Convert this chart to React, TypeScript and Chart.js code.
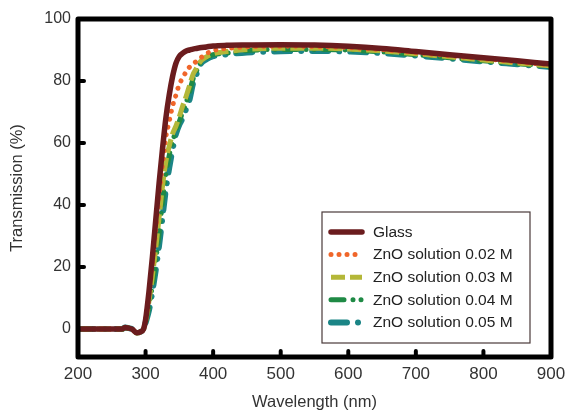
import React, { useEffect, useRef } from "react";
import { Chart, registerables } from "chart.js";

Chart.register(...registerables);

const wavelengths = [
  200, 260, 265, 270, 275, 280, 287, 293, 297, 300, 305, 310, 315, 320, 325, 330, 335, 340, 345, 350,
  355, 360, 365, 370, 375, 380, 390, 400, 420, 450, 500, 550, 600, 650, 700, 750, 800, 850, 900,
];

const glass = [
  0, 0, 0, 0.5, 0.3, 0, -1.2, -0.8, 0, 3, 12, 23, 35, 47, 58, 68, 75.5, 81.5, 85.8, 88,
  89, 89.7, 90, 90.3, 90.5, 90.7, 91, 91.3, 91.5, 91.6, 91.7, 91.6, 91.2, 90.5, 89.5, 88.5, 87.5, 86.5, 85.5,
];
const zno002 = [
  0, 0, 0, 0.5, 0.3, 0, -1.2, -0.8, 0, 3, 11, 21, 32, 43, 53, 62, 67, 72, 75.5, 79,
  81, 83, 84.5, 85.5, 86.3, 87.2, 88.8, 89.8, 90.5, 91, 91.2, 91.1, 90.8, 90.1, 89.2, 88.2, 87.2, 86.2, 85.2,
];
const zno003 = [
  0, 0, 0, 0.5, 0.3, 0, -1.3, -0.8, 0, 2.5, 9, 17, 26, 36, 46, 54, 59, 63, 65.5, 68.5,
  72, 75, 78.5, 82, 84, 86, 87.8, 88.8, 89.5, 90.2, 90.6, 90.6, 90.3, 89.7, 88.8, 87.8, 86.8, 85.8, 84.9,
];
const zno004 = [
  0, 0, 0, 0.5, 0.3, 0, -1.3, -0.8, 0, 2, 7.5, 14, 22, 31, 41, 50, 56, 60.5, 64, 67,
  70, 73, 76.5, 80.5, 83, 85.5, 87.5, 88.5, 89, 89.8, 90.2, 90.2, 90, 89.4, 88.5, 87.5, 86.5, 85.6, 84.7,
];
const zno005 = [
  0, 0, 0, 0.5, 0.3, 0, -1.3, -0.8, -0.3, 2, 6, 12, 19, 27, 36, 45, 52, 58, 63, 66,
  68, 71, 74, 79, 82, 85, 87, 88, 88.6, 89.2, 89.6, 89.7, 89.5, 89, 88.2, 87.3, 86.3, 85.4, 84.5,
];

const seriesLabels = [
  "Glass",
  "ZnO solution 0.02 M",
  "ZnO solution 0.03 M",
  "ZnO solution 0.04 M",
  "ZnO solution 0.05 M",
];

const xTicks = [200, 300, 400, 500, 600, 700, 800, 900];
const yTicks = [0, 20, 40, 60, 80, 100];

const FONT = "'Liberation Sans', Arial, Helvetica, sans-serif";

const framePlugin = {
  id: "frameTicks",
  beforeDatasetsDraw(chart: any) {
    const { ctx, chartArea, scales } = chart;
    ctx.save();
    ctx.strokeStyle = "#000";
    ctx.lineWidth = 4;
    ctx.lineCap = "round";
    const len = 6;
    for (const v of yTicks) {
      if (v === scales.y.max) continue;
      const y = scales.y.getPixelForValue(v);
      ctx.beginPath();
      ctx.moveTo(chartArea.left, y);
      ctx.lineTo(chartArea.left + len, y);
      ctx.stroke();
    }
    for (const v of xTicks) {
      if (v === scales.x.min || v === scales.x.max) continue;
      const x = scales.x.getPixelForValue(v);
      ctx.beginPath();
      ctx.moveTo(x, chartArea.bottom);
      ctx.lineTo(x, chartArea.bottom - len);
      ctx.stroke();
    }
    ctx.restore();
  },
  afterDatasetsDraw(chart: any) {
    const { ctx, chartArea } = chart;
    ctx.save();
    ctx.strokeStyle = "#000";
    ctx.lineWidth = 5;
    ctx.lineJoin = "round";
    ctx.strokeRect(chartArea.left, chartArea.top, chartArea.right - chartArea.left, chartArea.bottom - chartArea.top);
    ctx.restore();
  },
};

const legendPlugin = {
  id: "insideLegend",
  afterDraw(chart: any) {
    const { ctx, chartArea } = chart;
    const left = chartArea.right - 229;
    const top = chartArea.bottom - 145;
    const w = 208;
    const h = 131;
    ctx.save();
    ctx.fillStyle = "#fff";
    ctx.fillRect(left, top, w, h);
    ctx.strokeStyle = "#4a3a3a";
    ctx.lineWidth = 1.2;
    ctx.strokeRect(left, top, w, h);
    chart.data.datasets.forEach((ds: any, i: number) => {
      const y = top + 20 + i * 22.6;
      ctx.save();
      ctx.strokeStyle = ds.borderColor;
      ctx.lineWidth = ds.borderWidth;
      ctx.lineCap = ds.borderCapStyle || "butt";
      ctx.setLineDash(ds.borderDash || []);
      ctx.beginPath();
      ctx.moveTo(left + 9, y);
      ctx.lineTo(left + 40, y);
      ctx.stroke();
      ctx.restore();
      ctx.fillStyle = "#222";
      ctx.font = `15.5px ${FONT}`;
      ctx.textBaseline = "middle";
      ctx.textAlign = "left";
      ctx.fillText(ds.label, left + 51, y + 0.5);
    });
    ctx.restore();
  },
};

export default function App() {
  const ref = useRef<HTMLCanvasElement | null>(null);

  useEffect(() => {
    document.body.style.margin = "0";
    const toPts = (ys: number[]) => wavelengths.map((x, i) => ({ x, y: ys[i] }));
    const chart = new Chart(ref.current as HTMLCanvasElement, {
      type: "line",
      data: {
        datasets: [
          {
            label: seriesLabels[0],
            data: toPts(glass),
            borderColor: "#6b1c1e",
            borderWidth: 5.5,
            borderCapStyle: "round",
          },
          {
            label: seriesLabels[1],
            data: toPts(zno002),
            borderColor: "#f0662a",
            borderWidth: 5,
            borderCapStyle: "round",
            borderDash: [0.01, 8],
          },
          {
            label: seriesLabels[2],
            data: toPts(zno003),
            borderColor: "#b4b738",
            borderWidth: 5,
            borderCapStyle: "butt",
            borderDash: [14, 5],
          },
          {
            label: seriesLabels[3],
            data: toPts(zno004),
            borderColor: "#1f8a45",
            borderWidth: 5,
            borderCapStyle: "round",
            borderDash: [13, 9, 0.01, 8, 0.01, 9],
          },
          {
            label: seriesLabels[4],
            data: toPts(zno005),
            borderColor: "#1b8586",
            borderWidth: 6,
            borderCapStyle: "round",
            borderDash: [16, 11, 0.01, 11],
          },
        ].map((d: any) => ({ ...d, pointRadius: 0, fill: false, cubicInterpolationMode: "monotone" })),
      },
      options: {
        animation: false,
        responsive: false,
        events: [],
        layout: { padding: { top: 19, right: 14, left: 0, bottom: 0 } },
        plugins: { legend: { display: false }, tooltip: { enabled: false } },
        scales: {
          x: {
            type: "linear",
            min: 200,
            max: 900,
            grid: { display: false, drawTicks: false },
            border: { display: false },
            afterBuildTicks: (s: any) => {
              s.ticks = xTicks.map((v) => ({ value: v }));
            },
            afterFit: (s: any) => {
              s.height = 55;
              s.paddingLeft = 0;
              s.paddingRight = 0;
            },
            ticks: {
              padding: 7,
              color: "#333",
              font: { family: FONT, size: 17 },
              maxRotation: 0,
              autoSkip: false,
            },
            title: {
              display: true,
              text: "Wavelength (nm)",
              color: "#333",
              font: { family: FONT, size: 16.5 },
              padding: { top: 0, bottom: 0 },
            },
          },
          y: {
            type: "linear",
            min: -9,
            max: 100,
            grid: { display: false, drawTicks: false },
            border: { display: false },
            afterBuildTicks: (s: any) => {
              s.ticks = yTicks.map((v) => ({ value: v }));
            },
            afterFit: (s: any) => {
              s.width = 78;
              s.paddingTop = 0;
              s.paddingBottom = 0;
            },
            ticks: {
              padding: 7,
              color: "#333",
              font: { family: FONT, size: 16 },
              autoSkip: false,
            },
            title: {
              display: true,
              text: "Transmission (%)",
              color: "#333",
              font: { family: FONT, size: 16.5 },
              padding: { top: 8, bottom: 0 },
            },
          },
        },
      },
      plugins: [framePlugin, legendPlugin],
    });
    return () => chart.destroy();
  }, []);

  return (
    <div style={{ width: 565, height: 412 }}>
      <canvas ref={ref} width={565} height={412} />
    </div>
  );
}
